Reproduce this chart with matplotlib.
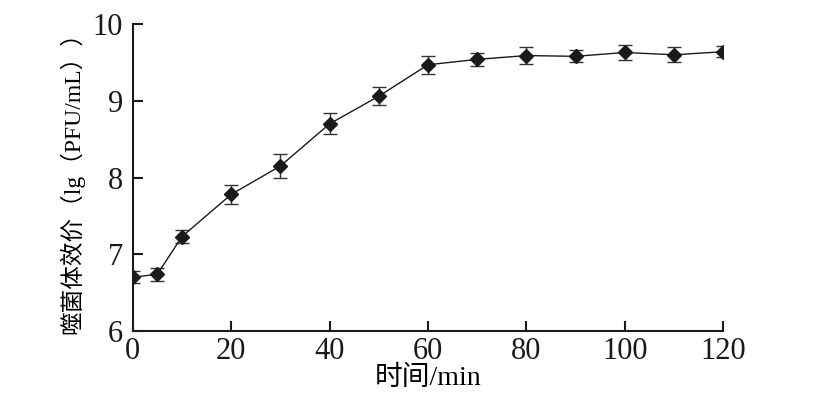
import matplotlib
matplotlib.use('Agg')
import matplotlib.pyplot as plt

plt.rcParams['font.family'] = ['Liberation Serif', 'Noto Sans CJK SC']

# Data
time_min = [0, 5, 10, 20, 30, 40, 50, 60, 70, 80, 90, 100, 110, 120]
titer = [6.70, 6.74, 7.23, 7.78, 8.15, 8.70, 9.06, 9.47, 9.54, 9.59, 9.58, 9.63, 9.60, 9.64]
titer_err = [0.08, 0.085, 0.085, 0.12, 0.16, 0.135, 0.12, 0.12, 0.08, 0.115, 0.08, 0.10, 0.10, 0.075]
x_ticks = [0, 20, 40, 60, 80, 100, 120]
y_ticks = [6, 7, 8, 9, 10]

fig = plt.figure(figsize=(8.4, 3.95), dpi=100)
ax = fig.add_axes([0.158, 0.162, 0.703, 0.777])

# Line with error bars
ax.errorbar(time_min, titer, yerr=titer_err, color='#1a1a1a', lw=1.0,
            marker='D', markersize=7, mfc='#1a1a1a', mec='#1a1a1a',
            ecolor='#333333', elinewidth=1.0, capsize=5, capthick=1.0)

ax.set_xlim(0, 120)
ax.set_ylim(6, 10)
ax.set_xticks(x_ticks)
ax.set_yticks(y_ticks)

for side in ['top', 'right']:
    ax.spines[side].set_visible(False)
for side in ['left', 'bottom']:
    ax.spines[side].set_linewidth(1.5)
    ax.spines[side].set_color('#1a1a1a')

ax.tick_params(direction='in', length=7, width=1.5, labelsize=22, colors='#1a1a1a')
ax.tick_params(axis='x', pad=4)
ax.tick_params(axis='y', pad=7)

ax.set_xlabel('时间/min', fontsize=20, labelpad=0)
ax.set_ylabel('噬菌体效价（lg（PFU/mL））', fontsize=17, labelpad=6)

plt.savefig('out.png', dpi=100)
